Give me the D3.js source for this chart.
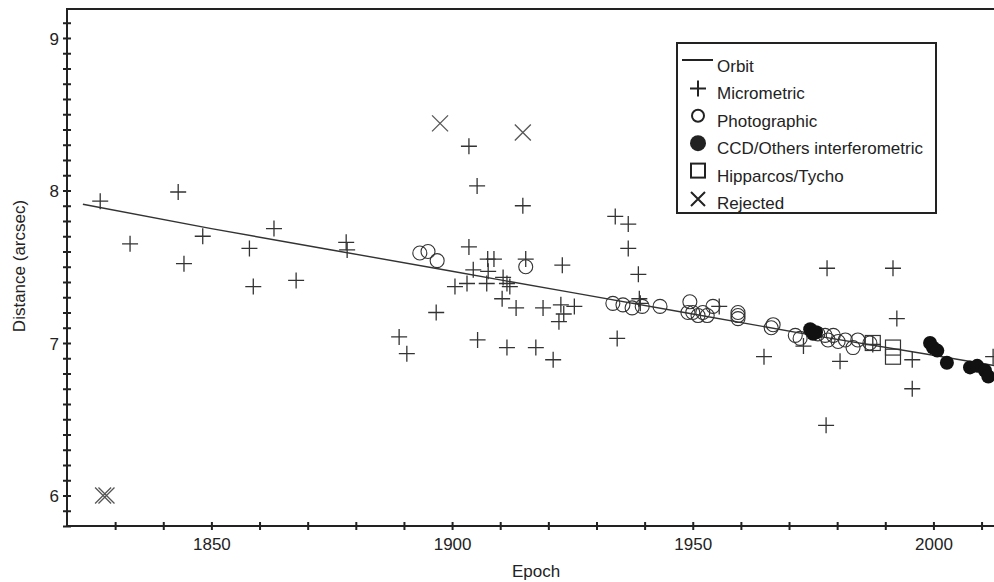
<!DOCTYPE html>
<html>
<head>
<meta charset="utf-8">
<script src="https://cdn.jsdelivr.net/npm/d3@7"></script>
<style>
    body { margin: 0; background: #fff; }
    text { font-family: "Liberation Sans", Arial, sans-serif; fill: #222; }
</style>
</head>
<body>
<script>
// orbit curve [epoch, distance]
var orbit = [
    [1823.3, 7.91], [1850, 7.75], [1875, 7.61], [1900, 7.47], [1925, 7.33],
    [1950, 7.19], [1975, 7.05], [2000, 6.92], [2013, 6.85]
];

var micrometric = [
    [1826.9, 7.93], [1833.1, 7.65], [1843.1, 7.99], [1844.3, 7.52], [1848.2, 7.70],
    [1857.9, 7.62], [1858.7, 7.37], [1863.0, 7.75], [1867.6, 7.41], [1878.0, 7.66],
    [1878.2, 7.61], [1889.0, 7.04], [1890.6, 6.93], [1896.7, 7.20], [1900.6, 7.37],
    [1903.1, 7.39], [1903.5, 8.29], [1903.5, 7.63], [1904.4, 7.48], [1905.2, 8.03],
    [1905.3, 7.02], [1907.2, 7.39], [1907.4, 7.55], [1907.5, 7.47], [1908.7, 7.55],
    [1910.4, 7.29], [1910.6, 7.43], [1911.4, 7.39], [1911.4, 6.97], [1912.0, 7.37],
    [1913.3, 7.23], [1914.7, 7.90], [1915.3, 7.55], [1917.4, 6.97], [1918.9, 7.23],
    [1921.0, 6.89], [1922.2, 7.14], [1922.6, 7.25], [1922.9, 7.51], [1923.2, 7.19],
    [1925.4, 7.24], [1933.9, 7.83], [1934.3, 7.03], [1936.6, 7.78], [1936.6, 7.62],
    [1938.7, 7.45], [1938.9, 7.29], [1939.1, 7.26], [1955.5, 7.24], [1964.8, 6.91],
    [1973.0, 6.98], [1977.7, 6.46], [1977.9, 7.49], [1980.6, 6.88], [1987.4, 6.99],
    [1991.6, 7.49], [1992.4, 7.16], [1995.6, 6.89], [1995.6, 6.70], [2012.4, 6.91]
];

var photographic = [
    [1893.3, 7.59], [1895.0, 7.60], [1896.9, 7.54], [1915.3, 7.50], [1933.4, 7.26],
    [1935.5, 7.25], [1937.4, 7.23], [1939.5, 7.24], [1943.2, 7.24], [1949.4, 7.27],
    [1949.0, 7.20], [1950.0, 7.20], [1951.1, 7.18], [1952.1, 7.20], [1953.0, 7.18],
    [1954.2, 7.24], [1959.4, 7.20], [1959.4, 7.18], [1959.4, 7.16], [1966.3, 7.10],
    [1966.7, 7.12], [1971.3, 7.05], [1972.3, 7.03], [1976.0, 7.06], [1977.5, 7.05],
    [1978.1, 7.02], [1979.2, 7.05], [1980.2, 7.01], [1981.7, 7.02], [1983.3, 6.97],
    [1984.3, 7.02], [1986.8, 7.00]
];

var ccd = [
    [1974.4, 7.09], [1975.0, 7.06], [1975.6, 7.07], [1999.3, 7.00], [1999.9, 6.97],
    [2000.8, 6.95], [2002.8, 6.87], [2007.6, 6.84], [2009.1, 6.85], [2010.7, 6.82],
    [2011.4, 6.78]
];

var hipparcos = [[1987.4, 7.00], [1991.6, 6.97], [1991.6, 6.91]];

var rejected = [[1827.5, 6.00], [1828.2, 6.00], [1897.5, 8.44], [1914.7, 8.38]];

var xticks = [1850, 1900, 1950, 2000];
var yticks = [6, 7, 8, 9];

var legendLabels = ["Orbit", "Micrometric", "Photographic",
    "CCD/Others interferometric", "Hipparcos/Tycho", "Rejected"];

// canvas
var width = 994, height = 582;
var plotLeft = 67, plotRight = 996, plotTop = 9, plotBottom = 526;
var ink = "#222";

var x = d3.scaleLinear().domain([1820, 2013]).range([plotLeft, plotRight]);
var y = d3.scaleLinear().domain([5.8, 9.19]).range([plotBottom, plotTop]);

var svg = d3.select("body")
    .append("svg")
        .attr("width", width)
        .attr("height", height);

svg.append("defs").append("clipPath").attr("id", "plot")
    .append("rect")
        .attr("x", plotLeft).attr("y", plotTop)
        .attr("width", plotRight - plotLeft).attr("height", plotBottom - plotTop);

// marker shapes
function plusPath(cx, cy, s) {
    return "M" + (cx - s) + "," + cy + "H" + (cx + s) + "M" + cx + "," + (cy - s) + "V" + (cy + s);
}
function crossPath(cx, cy, s) {
    return "M" + (cx - s) + "," + (cy - s) + "L" + (cx + s) + "," + (cy + s) +
        "M" + (cx - s) + "," + (cy + s) + "L" + (cx + s) + "," + (cy - s);
}

var plot = svg.append("g").attr("clip-path", "url(#plot)");

var valueline = d3.line()
    .x(function(d) { return x(d[0]); })
    .y(function(d) { return y(d[1]); });

plot.append("path")
    .attr("d", valueline(orbit))
    .style("fill", "none")
    .style("stroke", "#333")
    .style("stroke-width", 1.4);

plot.append("g")
    .selectAll("circle")
    .data(photographic)
    .enter()
    .append("circle")
        .attr("cx", function(d) { return x(d[0]); })
        .attr("cy", function(d) { return y(d[1]); })
        .attr("r", 7)
        .style("fill", "none")
        .style("stroke", "#333")
        .style("stroke-width", 1.1);

plot.append("g")
    .selectAll("rect")
    .data(hipparcos)
    .enter()
    .append("rect")
        .attr("x", function(d) { return x(d[0]) - 7.5; })
        .attr("y", function(d) { return y(d[1]) - 7.5; })
        .attr("width", 15)
        .attr("height", 15)
        .style("fill", "none")
        .style("stroke", "#333")
        .style("stroke-width", 1.2);

plot.append("g")
    .selectAll("path")
    .data(micrometric)
    .enter()
    .append("path")
        .attr("d", function(d) { return plusPath(x(d[0]), y(d[1]), 8); })
        .style("stroke", "#333")
        .style("stroke-width", 1.3);

plot.append("g")
    .selectAll("circle")
    .data(ccd)
    .enter()
    .append("circle")
        .attr("cx", function(d) { return x(d[0]); })
        .attr("cy", function(d) { return y(d[1]); })
        .attr("r", 7)
        .style("fill", "#111");

plot.append("g")
    .selectAll("path")
    .data(rejected)
    .enter()
    .append("path")
        .attr("d", function(d) { return crossPath(x(d[0]), y(d[1]), 8); })
        .style("stroke", "#555")
        .style("stroke-width", 1.3);

// axes with ticks crossing the line
var xAxis = d3.axisBottom(x)
    .tickValues(d3.range(1830, 2013, 10))
    .tickSize(0)
    .tickFormat(function(d) { return xticks.indexOf(d) >= 0 ? d : ""; });

var gx = svg.append("g")
    .attr("transform", "translate(0," + plotBottom + ")")
    .call(xAxis);
gx.select(".domain").remove();
gx.selectAll(".tick line").attr("y1", -4).attr("y2", 4)
    .style("stroke", ink).style("stroke-width", 2);
gx.selectAll(".tick text").attr("y", 24).attr("dy", 0)
    .style("font-size", "17px").style("fill", ink);

var yAxis = d3.axisLeft(y)
    .tickValues(d3.range(58, 92).map(function(v) { return v / 10; }))
    .tickSize(0)
    .tickFormat(function(d) { return yticks.indexOf(Math.round(d * 10) / 10) >= 0 ? d : ""; });

var gy = svg.append("g")
    .attr("transform", "translate(" + plotLeft + ",0)")
    .call(yAxis);
gy.select(".domain").remove();
gy.selectAll(".tick line").attr("x1", -4).attr("x2", 4)
    .style("stroke", ink).style("stroke-width", 2);
gy.selectAll(".tick text").attr("x", -8).attr("dy", "0.36em")
    .style("font-size", "17px").style("fill", ink);

// frame
svg.append("path")
    .attr("d", "M" + plotRight + "," + plotTop + "H" + plotLeft + "V" + plotBottom + "H" + plotRight)
    .style("fill", "none")
    .style("stroke", ink)
    .style("stroke-width", 2);

svg.append("text")      // x-axis label
    .attr("x", 536)
    .attr("y", 577)
    .style("text-anchor", "middle")
    .style("font-size", "17px")
    .text("Epoch");

svg.append("text")      // y-axis label
    .attr("transform", "translate(25,266) rotate(-90)")
    .style("text-anchor", "middle")
    .style("font-size", "17px")
    .text("Distance (arcsec)");

// legend
var lg = svg.append("g").attr("transform", "translate(677,43)");
lg.append("rect")
    .attr("width", 259)
    .attr("height", 170)
    .style("fill", "#fff")
    .style("stroke", ink)
    .style("stroke-width", 2);

var rowY = d3.scaleLinear().domain([0, 5]).range([29, 166]);

lg.selectAll("text.lab")
    .data(legendLabels)
    .enter()
    .append("text")
        .attr("class", "lab")
        .attr("x", 40)
        .attr("y", function(d, i) { return rowY(i); })
        .style("font-size", "17px")
        .text(function(d) { return d; });

var sx = 21;
lg.append("path")
    .attr("d", "M5," + (rowY(0) - 12) + "H36")
    .style("stroke", ink).style("stroke-width", 2);
lg.append("path")
    .attr("d", plusPath(sx, rowY(1) - 11, 8))
    .style("stroke", ink).style("stroke-width", 2);
lg.append("circle")
    .attr("cx", sx).attr("cy", rowY(2) - 11).attr("r", 6)
    .style("fill", "none").style("stroke", ink).style("stroke-width", 2);
lg.append("circle")
    .attr("cx", sx).attr("cy", rowY(3) - 11).attr("r", 8)
    .style("fill", ink);
lg.append("rect")
    .attr("x", sx - 7).attr("y", rowY(4) - 18).attr("width", 14).attr("height", 14)
    .style("fill", "none").style("stroke", ink).style("stroke-width", 2);
lg.append("path")
    .attr("d", crossPath(sx, rowY(5) - 10, 7))
    .style("stroke", ink).style("stroke-width", 2);
</script>
</body>
</html>
